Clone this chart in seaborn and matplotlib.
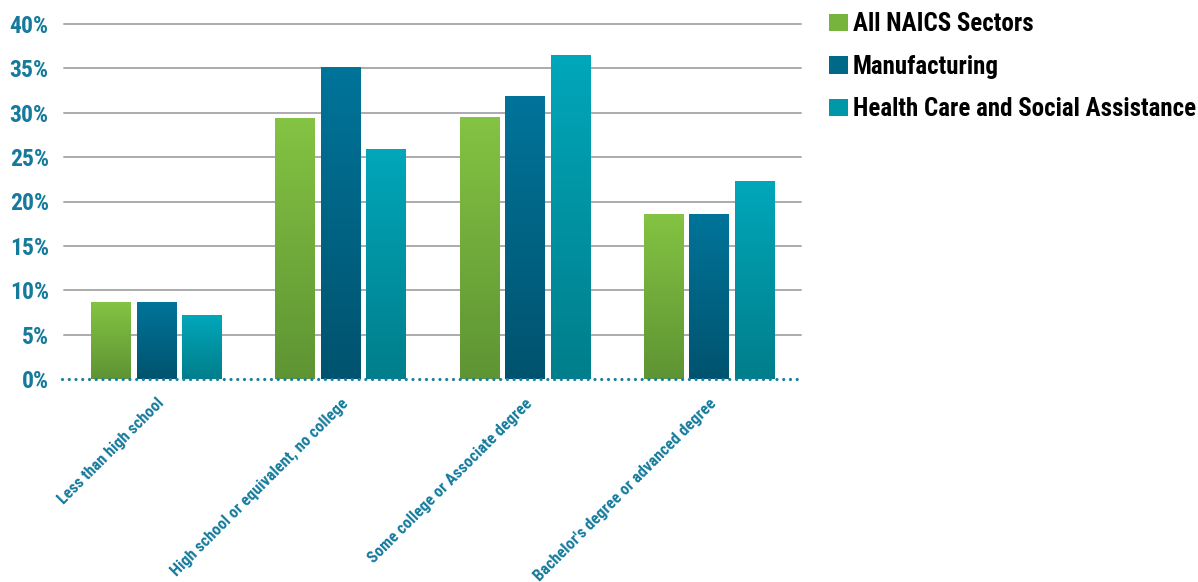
import numpy as np
import pandas as pd
import matplotlib
matplotlib.use("Agg")
import matplotlib.pyplot as plt
from matplotlib.colors import LinearSegmentedColormap
from matplotlib.patches import Patch
import seaborn as sns

# Share of workers by educational attainment
categories = [
    "Less than high school",
    "High school or equivalent, no college",
    "Some college or Associate degree",
    "Bachelor's degree or advanced degree",
]
series = ["All NAICS Sectors", "Manufacturing", "Health Care and Social Assistance"]
all_sectors = [8.6, 29.3, 29.5, 18.5]
manufacturing = [8.6, 35.1, 31.8, 18.5]
health_care = [7.1, 25.9, 36.5, 22.2]
y_ticks = [0, 5, 10, 15, 20, 25, 30, 35, 40]

df = pd.DataFrame({
    "category": categories * 3,
    "sector": [s for s in series for _ in categories],
    "share": all_sectors + manufacturing + health_care,
})

# (top, bottom) colours of each bar gradient
gradients = {
    "All NAICS Sectors": ("#84c343", "#5e9433"),
    "Manufacturing": ("#00749a", "#00536e"),
    "Health Care and Social Assistance": ("#00a7ba", "#007e8b"),
}
legend_colors = ["#76b43e", "#006888", "#0097a8"]
label_blue = "#157a9c"

sns.set_theme(style="white")
plt.rcParams["font.family"] = ["Roboto Condensed", "DejaVu Sans"]
plt.rcParams["font.weight"] = "bold"

fig = plt.figure(figsize=(11.98, 5.82), dpi=100)
ax = fig.add_axes([64 / 1198, 203 / 582, (801 - 64) / 1198, (379 - 24) / 582])

palette = {s: gradients[s][0] for s in series}
sns.barplot(data=df, x="category", y="share", hue="sector", order=categories,
            hue_order=series, palette=palette, width=0.74, gap=0.14,
            ax=ax, legend=False, saturation=1)

# Replace the flat fills with vertical gradients
ramp = np.linspace(0, 1, 256).reshape(-1, 1)
for container, name in zip(ax.containers, series):
    top, bottom = gradients[name]
    cmap = LinearSegmentedColormap.from_list(name, [bottom, top])
    for bar in container:
        x0, y0 = bar.get_x(), bar.get_y()
        w, h = bar.get_width(), bar.get_height()
        ax.imshow(ramp, extent=[x0, x0 + w, y0, y0 + h], origin="lower",
                  aspect="auto", cmap=cmap, zorder=2, interpolation="bilinear")
        bar.set_facecolor("none")
        bar.set_edgecolor("none")

ax.set_xlim(-0.5, 3.5)
ax.set_ylim(0, 40)

# Horizontal grid lines
for yv in y_ticks[1:]:
    ax.axhline(yv, color="#ababab", lw=1.4, zorder=1, clip_on=False)
# Dotted baseline
ax.axhline(0, color="#1a7ea0", lw=2.3, dashes=(0.01, 2.1), dash_capstyle="round",
           zorder=5, clip_on=False, xmin=-0.003)

for s in ax.spines.values():
    s.set_visible(False)

ax.set_yticks(y_ticks)
ax.set_yticklabels([f"{v}%" for v in y_ticks], fontsize=17, fontweight="bold", color=label_blue)
ax.tick_params(axis="y", length=0, pad=11)
ax.tick_params(axis="x", length=0, pad=12)
ax.set_xticks(range(len(categories)))
ax.set_xticklabels(categories, rotation=45, ha="right", va="top",
                   rotation_mode="anchor", fontsize=11.8, fontweight="bold", color=label_blue)
ax.set_xlabel("")
ax.set_ylabel("")

handles = [Patch(facecolor=c, edgecolor="none") for c in legend_colors]
fig.legend(handles, series, loc="upper left", bbox_to_anchor=(825 / 1198, 1 - 8.5 / 582),
           frameon=False, prop={"size": 18, "weight": "bold"},
           handlelength=0.76, handleheight=0.72, handletextpad=0.2, labelspacing=0.74,
           borderaxespad=0, borderpad=0.15, labelcolor="black")

fig.savefig("out.png", dpi=100)
